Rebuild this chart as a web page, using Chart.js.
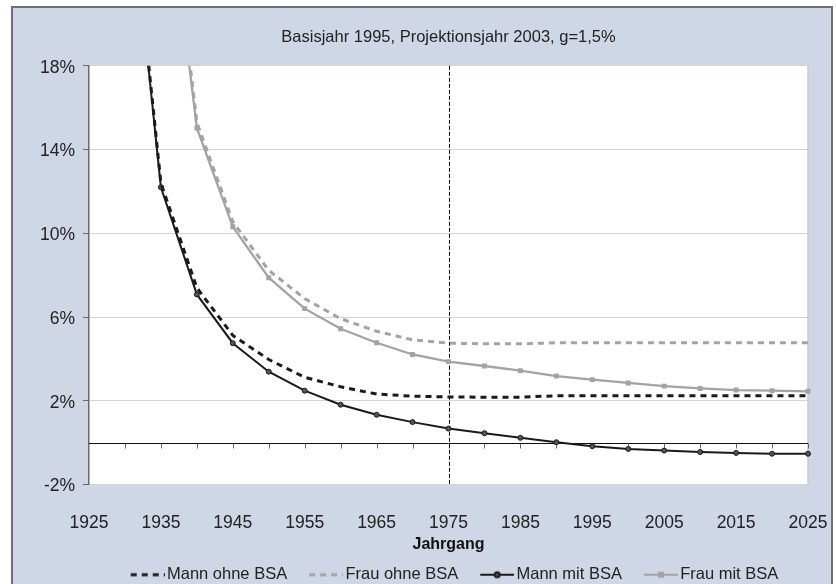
<!DOCTYPE html>
<html>
<head>
<meta charset="utf-8">
<script src="https://cdn.jsdelivr.net/npm/chart.js@4/dist/chart.umd.min.js"></script>
<style>
    html, body { margin: 0; padding: 0; background: #ffffff; overflow: hidden; }
    #frame {
        position: absolute;
        left: 11px;
        top: 6px;
        width: 818px;
        height: 585px;
        border: 2px solid #6e7075;
        border-bottom: none;
        background: #cfd6e5;
    }
    #chart { display: block; }
</style>
</head>
<body>
<div id="frame"><canvas id="chart" width="818" height="585"></canvas></div>
<script>
// Jahrgänge (alle 5 Jahre)
const years = [1930, 1935, 1940, 1945, 1950, 1955, 1960, 1965, 1970, 1975,
               1980, 1985, 1990, 1995, 2000, 2005, 2010, 2015, 2020, 2025];

// Werte in %
const mannOhneBSA = [29.0, 12.4, 7.4, 5.12, 3.97, 3.12, 2.67, 2.32, 2.22, 2.18,
                     2.17, 2.17, 2.24, 2.24, 2.24, 2.24, 2.24, 2.24, 2.24, 2.24];
const frauOhneBSA = [56.0, 29.8, 15.3, 10.55, 8.23, 6.88, 5.92, 5.32, 4.91, 4.75,
                     4.72, 4.72, 4.77, 4.77, 4.77, 4.77, 4.77, 4.77, 4.77, 4.77];
const mannMitBSA = [28.8, 12.2, 7.08, 4.75, 3.39, 2.48, 1.81, 1.33, 0.98, 0.67,
                    0.45, 0.23, 0.02, -0.17, -0.30, -0.38, -0.45, -0.49, -0.53, -0.53];
const frauMitBSA = [55.0, 29.2, 15.03, 10.31, 7.88, 6.40, 5.44, 4.77, 4.21, 3.87,
                    3.66, 3.44, 3.18, 3.01, 2.85, 2.70, 2.59, 2.51, 2.48, 2.45];

// Achsenbeschriftungen
const xTicks = [1925, 1935, 1945, 1955, 1965, 1975, 1985, 1995, 2005, 2015, 2025];
const yTicks = [-2, 2, 6, 10, 14, 18];
const zeroTickYears = [1930, 1935, 1940, 1945, 1950, 1955, 1960, 1965, 1970, 1975,
                       1980, 1985, 1990, 1995, 2000, 2005, 2010, 2015, 2020, 2025];
const markerYear = 1975;

const FONT = '"Liberation Sans", Arial, sans-serif';
const BLACK = '#1a1a1a';
const GREY = '#a3a3a3';

function toPoints(values) {
    return years.map((y, i) => ({ x: y, y: values[i] }));
}

// kleine Legenden-Muster (Linie + Marker)
function makeSample(color, dash, marker) {
    const c = document.createElement('canvas');
    c.width = 52;
    c.height = 12;
    const g = c.getContext('2d');
    g.strokeStyle = color;
    g.lineWidth = dash ? 3 : 2;
    g.setLineDash(dash || []);
    g.beginPath();
    g.moveTo(18, 6);
    g.lineTo(52, 6);
    g.stroke();
    g.setLineDash([]);
    if (marker === 'circle') {
        g.fillStyle = '#555';
        g.beginPath();
        g.arc(35, 6, 2.5, 0, Math.PI * 2);
        g.fill();
        g.stroke();
    } else if (marker === 'rect') {
        g.fillStyle = color;
        g.fillRect(32, 3, 6, 6);
    }
    return c;
}

const samples = [
    makeSample(BLACK, [6, 5], null),
    makeSample(GREY, [6, 5], null),
    makeSample(BLACK, null, 'circle'),
    makeSample(GREY, null, 'rect')
];

// Plotfläche, Nulllinie mit Teilstrichen, Markierung 1975
const plotDecor = {
    id: 'plotDecor',
    beforeDraw(chart) {
        const a = chart.chartArea;
        const ctx = chart.ctx;
        ctx.save();
        ctx.fillStyle = '#ffffff';
        ctx.fillRect(a.left, a.top, a.right - a.left, a.bottom - a.top);
        ctx.restore();
    },
    beforeDatasetsDraw(chart) {
        const a = chart.chartArea;
        const ctx = chart.ctx;
        const xs = chart.scales.x;
        const ys = chart.scales.y;
        ctx.save();
        // rechter Rand
        ctx.strokeStyle = '#c8c8c8';
        ctx.lineWidth = 1.5;
        ctx.beginPath();
        ctx.moveTo(a.right, a.top);
        ctx.lineTo(a.right, a.bottom);
        ctx.stroke();
        // Nulllinie
        const y0 = Math.round(ys.getPixelForValue(0)) + 0.5;
        ctx.strokeStyle = '#111';
        ctx.lineWidth = 1;
        ctx.beginPath();
        ctx.moveTo(a.left, y0);
        ctx.lineTo(a.right, y0);
        ctx.stroke();
        ctx.strokeStyle = '#666';
        zeroTickYears.forEach(yr => {
            const px = Math.round(xs.getPixelForValue(yr)) + 0.5;
            ctx.beginPath();
            ctx.moveTo(px, y0);
            ctx.lineTo(px, y0 + 5);
            ctx.stroke();
        });
        // senkrechte Linie
        const xm = Math.round(xs.getPixelForValue(markerYear)) + 0.5;
        ctx.strokeStyle = '#000';
        ctx.setLineDash([4, 2]);
        ctx.beginPath();
        ctx.moveTo(xm, a.top);
        ctx.lineTo(xm, a.bottom);
        ctx.stroke();
        ctx.restore();
    }
};

const ctx = document.getElementById('chart').getContext('2d');
new Chart(ctx, {
    type: 'line',
    data: {
        datasets: [{
            label: 'Mann ohne BSA',
            data: toPoints(mannOhneBSA),
            borderColor: BLACK,
            borderWidth: 3,
            borderDash: [6, 5],
            pointRadius: 0
        }, {
            label: 'Frau ohne BSA',
            data: toPoints(frauOhneBSA),
            borderColor: GREY,
            borderWidth: 3,
            borderDash: [6, 5],
            pointRadius: 0
        }, {
            label: 'Mann mit BSA',
            data: toPoints(mannMitBSA),
            borderColor: BLACK,
            borderWidth: 2,
            pointStyle: 'circle',
            pointRadius: 2.5,
            pointBackgroundColor: '#555',
            pointBorderColor: BLACK,
            pointBorderWidth: 1
        }, {
            label: 'Frau mit BSA',
            data: toPoints(frauMitBSA),
            borderColor: GREY,
            borderWidth: 2.3,
            pointStyle: 'rect',
            pointRadius: 3.5,
            pointBackgroundColor: GREY,
            pointBorderColor: GREY,
            pointBorderWidth: 0
        }]
    },
    options: {
        responsive: false,
        animation: false,
        events: [],
        clip: { left: 6, right: 6, top: 0, bottom: 6 },
        layout: { padding: { top: 0, left: 0, right: 23, bottom: 0 } },
        scales: {
            x: {
                type: 'linear',
                min: 1925,
                max: 2025,
                afterBuildTicks: scale => { scale.ticks = xTicks.map(v => ({ value: v })); },
                afterFit: scale => {
                    scale.height = 72;
                    scale.paddingLeft = 0;
                    scale.paddingRight = 0;
                },
                grid: { display: false, drawTicks: false },
                border: { display: false },
                ticks: {
                    padding: 28,
                    color: '#222',
                    font: { family: FONT, size: 17.5 },
                    maxRotation: 0,
                    autoSkip: false,
                    callback: v => String(v)
                },
                title: {
                    display: true,
                    text: 'Jahrgang',
                    color: '#111',
                    font: { family: FONT, size: 16, weight: 'bold' },
                    padding: { top: 0, bottom: 2 }
                }
            },
            y: {
                type: 'linear',
                min: -2,
                max: 18,
                afterBuildTicks: scale => { scale.ticks = yTicks.map(v => ({ value: v })); },
                afterFit: scale => { scale.width = 76; },
                grid: { color: '#d3d3d3', tickColor: '#6a6a6a', tickLength: 6, lineWidth: 1 },
                border: { color: '#6a6a6a', width: 1.5 },
                ticks: {
                    padding: 8,
                    labelOffset: 2,
                    color: '#222',
                    font: { family: FONT, size: 17.5 },
                    callback: v => v + '%'
                }
            }
        },
        plugins: {
            title: {
                display: true,
                fullSize: false,
                text: 'Basisjahr 1995, Projektionsjahr 2003, g=1,5%',
                color: '#222',
                font: { family: FONT, size: 16.5, weight: 'normal' },
                padding: { top: 20, bottom: 18 }
            },
            legend: {
                display: true,
                position: 'bottom',
                fullSize: false,
                labels: {
                    usePointStyle: true,
                    pointStyleWidth: 40,
                    padding: 10,
                    color: '#222',
                    font: { family: FONT, size: 16.5 },
                    generateLabels: chart => chart.data.datasets.map((ds, i) => ({
                        text: ds.label,
                        pointStyle: samples[i],
                        fillStyle: 'transparent',
                        strokeStyle: 'transparent',
                        lineWidth: 0,
                        fontColor: '#222',
                        datasetIndex: i,
                        hidden: false
                    }))
                }
            },
            tooltip: { enabled: false }
        }
    },
    plugins: [plotDecor]
});
</script>
</body>
</html>
